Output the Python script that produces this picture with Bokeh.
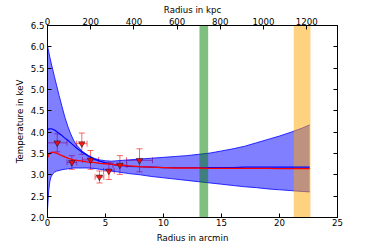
from bokeh.plotting import figure
from bokeh.models import (Range1d, LinearAxis, FixedTicker, PrintfTickFormatter,
                          Whisker, TeeHead, ColumnDataSource)
from bokeh.embed import file_html
from bokeh.resources import INLINE

# ---------------- data ----------------
kpc_per_arcmin = 53.7

# measured temperature profile
r_data = [0.84, 2.10, 2.96, 3.71, 4.48, 5.29, 6.24, 7.93]
r_err = [0.84, 0.42, 0.45, 0.70, 0.38, 0.46, 0.60, 1.12]
t_data = [3.75, 3.29, 3.73, 3.35, 2.95, 3.09, 3.23, 3.34]
t_err = [0.21, 0.16, 0.25, 0.22, 0.14, 0.20, 0.22, 0.27]

# model curves
r_model = [0, 0.1, 0.2, 0.3, 0.45, 0.6, 0.8, 1.0, 1.25, 1.5, 1.75, 2.0, 2.25, 2.5,
           3.0, 3.5, 4.0, 4.5, 5.0, 5.5, 6.0, 7.0, 8.0, 9.0, 10, 11, 12, 13, 14,
           15, 16, 17, 18, 19, 20, 21, 22, 22.6]
t_model_3d = [4.06, 4.07, 4.08, 4.08, 4.07, 4.05, 4.01, 3.97, 3.92, 3.86, 3.81, 3.75,
              3.69, 3.63, 3.53, 3.44, 3.37, 3.32, 3.28, 3.25, 3.23, 3.20, 3.19, 3.18,
              3.17, 3.17, 3.17, 3.17, 3.17, 3.17, 3.17, 3.18, 3.18, 3.18, 3.18, 3.18,
              3.18, 3.18]
t_model_proj = [3.40, 3.46, 3.50, 3.52, 3.53, 3.52, 3.51, 3.48, 3.45, 3.42, 3.39, 3.37,
                3.35, 3.34, 3.32, 3.30, 3.29, 3.27, 3.26, 3.25, 3.23, 3.21, 3.19, 3.18,
                3.17, 3.16, 3.16, 3.16, 3.15, 3.15, 3.15, 3.15, 3.15, 3.15, 3.145, 3.145,
                3.145, 3.145]
t_band_hi = [6.02, 5.89, 5.76, 5.64, 5.47, 5.30, 5.08, 4.86, 4.60, 4.35, 4.14, 3.96,
             3.81, 3.70, 3.55, 3.46, 3.39, 3.35, 3.33, 3.32, 3.33, 3.35, 3.37, 3.39,
             3.41, 3.43, 3.45, 3.48, 3.51, 3.56, 3.61, 3.67, 3.75, 3.83, 3.91, 4.00,
             4.10, 4.17]
t_band_lo = [2.18, 2.62, 2.84, 2.95, 3.02, 3.06, 3.09, 3.10, 3.12, 3.13, 3.14, 3.15,
             3.16, 3.16, 3.16, 3.16, 3.15, 3.13, 3.11, 3.09, 3.07, 3.03, 3.00, 2.96,
             2.93, 2.90, 2.87, 2.84, 2.81, 2.78, 2.75, 2.72, 2.70, 2.67, 2.65, 2.63,
             2.61, 2.60]

# shaded radii (arcmin)
green_span = [13.1, 13.85]
orange_span = [21.23, 22.67]

x_ticks = [0, 5, 10, 15, 20, 25]
kpc_ticks = [0, 200, 400, 600, 800, 1000, 1200]
y_ticks = [2.0, 2.5, 3.0, 3.5, 4.0, 4.5, 5.0, 5.5, 6.0, 6.5]
x_lim = [0, 25]
y_lim = [2.0, 6.5]

# ---------------- figure ----------------
FONT = "DejaVu Sans"
FS = "8.6px"

p = figure(width=374, height=249, x_range=Range1d(*x_lim), y_range=Range1d(*y_lim),
           output_backend="svg", toolbar_location=None,
           min_border_left=47, min_border_right=37, min_border_top=25,
           min_border_bottom=32)
p.extra_x_ranges = {"kpc": Range1d(x_lim[0] * kpc_per_arcmin, x_lim[1] * kpc_per_arcmin)}
p.grid.visible = False
p.outline_line_color = "black"
p.outline_line_width = 1
p.background_fill_color = "white"
p.border_fill_color = "white"


def style_axis(ax, standoff=3, label_standoff=4):
    ax.major_tick_in = 4
    ax.major_tick_out = 0
    ax.minor_tick_in = 0
    ax.minor_tick_out = 0
    ax.major_tick_line_color = "black"
    ax.axis_line_color = "black"
    ax.major_label_text_font = FONT
    ax.major_label_text_font_size = FS
    ax.major_label_text_color = "black"
    ax.major_label_standoff = standoff
    ax.axis_label_text_font = FONT
    ax.axis_label_text_font_size = FS
    ax.axis_label_text_font_style = "normal"
    ax.axis_label_text_color = "black"
    ax.axis_label_standoff = label_standoff


xb = p.xaxis[0]
xb.ticker = FixedTicker(ticks=x_ticks)
xb.axis_label = "Radius in arcmin"
style_axis(xb, standoff=1, label_standoff=4)

yl = p.yaxis[0]
yl.ticker = FixedTicker(ticks=y_ticks)
yl.formatter = PrintfTickFormatter(format="%.1f")
yl.axis_label = "Temperature in keV"
style_axis(yl, standoff=3, label_standoff=3)

xt = LinearAxis(x_range_name="kpc", ticker=FixedTicker(ticks=kpc_ticks),
                axis_label="Radius in kpc")
style_axis(xt, standoff=1, label_standoff=0)
p.add_layout(xt, "above")

yr = LinearAxis(ticker=FixedTicker(ticks=y_ticks))
style_axis(yr, standoff=0, label_standoff=0)
yr.major_label_text_color = None
p.add_layout(yr, "right")

# model uncertainty band
p.varea(x=r_model, y1=t_band_lo, y2=t_band_hi, fill_color="blue", fill_alpha=0.5)
p.line(r_model, t_band_hi, line_color="blue", line_width=1, line_alpha=0.8)
p.line(r_model, t_band_lo, line_color="blue", line_width=1, line_alpha=0.8)

# vertical spans
p.quad(left=[green_span[0]], right=[green_span[1]], bottom=[y_lim[0]], top=[y_lim[1]],
       fill_color="green", fill_alpha=0.5, line_color=None)
p.quad(left=[orange_span[0]], right=[orange_span[1]], bottom=[y_lim[0]], top=[y_lim[1]],
       fill_color="orange", fill_alpha=0.5, line_color=None)

# model lines
p.line(r_model, t_model_3d, line_color="blue", line_width=1.2)
p.line(r_model, t_model_proj, line_color="red", line_width=1.3)

# data points with error bars
src = ColumnDataSource(dict(
    r=r_data, t=t_data,
    rlo=[a - b for a, b in zip(r_data, r_err)], rhi=[a + b for a, b in zip(r_data, r_err)],
    tlo=[a - b for a, b in zip(t_data, t_err)], thi=[a + b for a, b in zip(t_data, t_err)],
))
ERR_A = 0.6
p.add_layout(Whisker(source=src, base="r", lower="tlo", upper="thi", dimension="height",
                     line_color="red", line_alpha=ERR_A, line_width=1,
                     upper_head=TeeHead(size=6, line_color="red", line_alpha=ERR_A),
                     lower_head=TeeHead(size=6, line_color="red", line_alpha=ERR_A)))
p.add_layout(Whisker(source=src, base="t", lower="rlo", upper="rhi", dimension="width",
                     line_color="red", line_alpha=ERR_A, line_width=1,
                     upper_head=TeeHead(size=6, line_color="red", line_alpha=ERR_A),
                     lower_head=TeeHead(size=6, line_color="red", line_alpha=ERR_A)))
p.scatter("r", "t", source=src, marker="inverted_triangle", size=6.5,
          fill_color="red", fill_alpha=0.85, line_color="black", line_alpha=0.6,
          line_width=0.8)

open("out.html", "w").write(file_html(p, INLINE))
